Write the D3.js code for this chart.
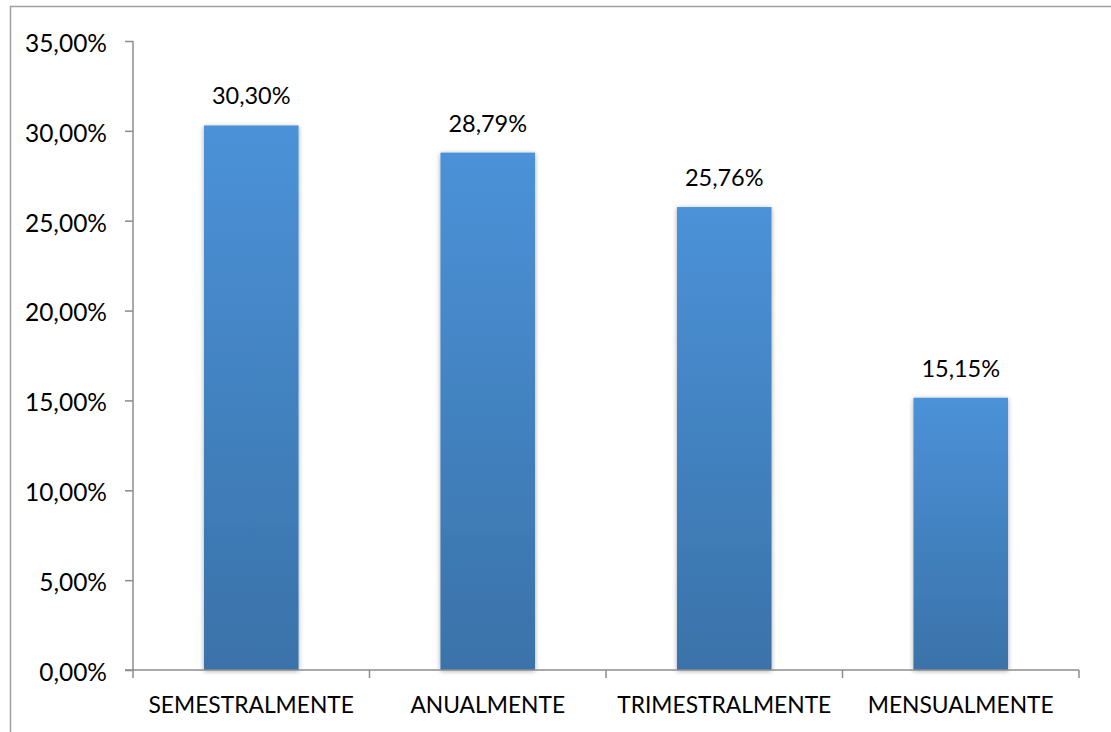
<!DOCTYPE html>
<html>
<head>
<meta charset="utf-8">
<script src="https://cdn.jsdelivr.net/npm/d3@7"></script>
<style>
  html, body { margin: 0; padding: 0; background: #fff; }
  svg { display: block; }
  text { font-family: Lato, "Open Sans", sans-serif; fill: #000; }
</style>
</head>
<body>
<svg id="chart" width="1111" height="732"></svg>
<script>
const categories = ["SEMESTRALMENTE", "ANUALMENTE", "TRIMESTRALMENTE", "MENSUALMENTE"];
const values = [30.30, 28.79, 25.76, 15.15];
const valueLabels = ["30,30%", "28,79%", "25,76%", "15,15%"];
const yTicks = [0, 5, 10, 15, 20, 25, 30, 35];
const yTickLabels = ["0,00%", "5,00%", "10,00%", "15,00%", "20,00%", "25,00%", "30,00%", "35,00%"];

const svg = d3.select("#chart");
const plotLeft = 133, plotRight = 1079, plotTop = 41, plotBottom = 670;

// outer frame
svg.append("rect")
  .attr("x", 10.5).attr("y", 6.5).attr("width", 1200).attr("height", 800)
  .attr("fill", "none").attr("stroke", "#a0a0a0").attr("stroke-width", 1.5);

const defs = svg.append("defs");
const grad = defs.append("linearGradient").attr("id", "barGrad")
  .attr("x1", 0).attr("y1", 0).attr("x2", 0).attr("y2", 1);
grad.append("stop").attr("offset", "0%").attr("stop-color", "#4b92d8");
grad.append("stop").attr("offset", "100%").attr("stop-color", "#3a72a9");

const shadow = defs.append("filter").attr("id", "shadow")
  .attr("x", "-20%").attr("y", "-5%").attr("width", "140%").attr("height", "110%");
shadow.append("feGaussianBlur").attr("in", "SourceAlpha").attr("stdDeviation", 2.5).attr("result", "blur");
shadow.append("feOffset").attr("in", "blur").attr("dx", 0).attr("dy", 1).attr("result", "off");
shadow.append("feComponentTransfer").attr("in", "off").attr("result", "sh")
  .append("feFuncA").attr("type", "linear").attr("slope", 0.35);
const merge = shadow.append("feMerge");
merge.append("feMergeNode").attr("in", "sh");
merge.append("feMergeNode").attr("in", "SourceGraphic");

const x = d3.scaleBand().domain(categories).range([plotLeft, plotRight]).paddingInner(0.6).paddingOuter(0.3);
const y = d3.scaleLinear().domain([0, 35]).range([plotBottom, plotTop]);

// bars
svg.append("g").selectAll("rect").data(values).join("rect")
  .attr("x", (d, i) => x(categories[i]))
  .attr("y", d => y(d))
  .attr("width", x.bandwidth())
  .attr("height", d => y(0) - y(d))
  .attr("fill", "url(#barGrad)")
  .attr("filter", "url(#shadow)");

// y axis
const yAxis = d3.axisLeft(y).tickValues(yTicks)
  .tickFormat((d, i) => yTickLabels[i]).tickSize(8).tickPadding(18);
const gy = svg.append("g").attr("transform", `translate(${plotLeft},0)`).call(yAxis);
gy.select(".domain").attr("stroke", "#8c8c8c").attr("stroke-width", 1.5).attr("d", `M0,${plotTop}V${plotBottom}`);
gy.selectAll(".tick line").attr("stroke", "#8c8c8c").attr("stroke-width", 1.5);
gy.selectAll(".tick text").style("font-family", "Lato, 'Open Sans', sans-serif")
  .style("font-size", "24.5px").attr("fill", "#000").attr("dy", "0.42em");

// x axis
const step = (plotRight - plotLeft) / categories.length;
const boundaries = d3.range(categories.length + 1).map(i => plotLeft + i * step);
const gx = svg.append("g");
gx.append("line").attr("x1", plotLeft - 8).attr("x2", plotRight).attr("y1", plotBottom).attr("y2", plotBottom)
  .attr("stroke", "#8c8c8c").attr("stroke-width", 1.5);
gx.selectAll("line.tk").data(boundaries).join("line").attr("class", "tk")
  .attr("x1", d => d).attr("x2", d => d).attr("y1", plotBottom).attr("y2", plotBottom + 8)
  .attr("stroke", "#8c8c8c").attr("stroke-width", 1.5);
gx.selectAll("text").data(categories).join("text")
  .attr("x", d => x(d) + x.bandwidth() / 2)
  .attr("y", 713)
  .attr("text-anchor", "middle")
  .style("font-size", "22.8px")
  .text(d => d);

// value labels
svg.append("g").selectAll("text").data(values).join("text")
  .attr("x", (d, i) => x(categories[i]) + x.bandwidth() / 2)
  .attr("y", d => y(d) - 21)
  .attr("text-anchor", "middle")
  .style("font-size", "23.5px")
  .text((d, i) => valueLabels[i]);
</script>
</body>
</html>
